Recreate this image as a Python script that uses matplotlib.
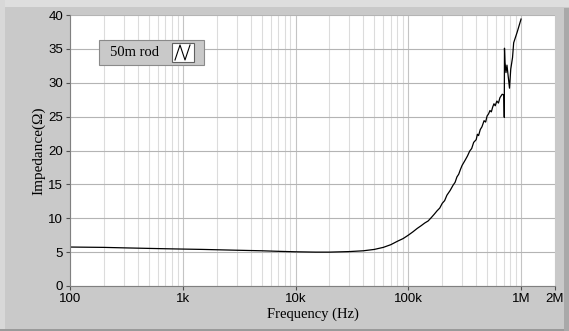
import matplotlib
matplotlib.use("Agg")
from matplotlib import pyplot as plt
from matplotlib.patches import Rectangle
from matplotlib.lines import Line2D
from matplotlib.ticker import FixedLocator, NullFormatter

# impedance sweep of the 50m rod
freq = [100, 150, 200, 300, 500, 700, 1e3, 1.5e3, 2e3, 3e3, 5e3, 7e3,
        1e4, 1.5e4, 2e4, 3e4, 4e4, 5e4, 6e4, 7e4, 8e4, 9e4, 1e5,
        1.1e5, 1.2e5, 1.3e5, 1.4e5, 1.5e5, 1.6e5, 1.7e5, 1.8e5, 1.9e5, 2e5,
        2.1e5, 2.2e5, 2.35e5, 2.5e5, 2.6e5, 2.7e5, 2.8e5, 2.9e5, 3e5, 3.2e5,
        3.35e5, 3.5e5, 3.65e5, 3.8e5, 4e5, 4.1e5, 4.2e5, 4.35e5, 4.5e5,
        4.7e5, 4.85e5, 5e5, 5.15e5, 5.3e5, 5.45e5, 5.6e5, 5.75e5, 5.9e5,
        6.1e5, 6.3e5, 6.5e5, 6.8e5, 7.05e5, 7.1e5, 7.13e5, 7.2e5, 7.35e5,
        7.5e5, 7.9e5, 8.1e5, 8.4e5, 8.6e5, 9.25e5, 1e6]
impedance = [5.75, 5.72, 5.7, 5.63, 5.55, 5.5, 5.45, 5.4, 5.35, 5.28, 5.2, 5.12,
             5.05, 5.0, 5.0, 5.08, 5.2, 5.4, 5.7, 6.1, 6.6, 7.0, 7.5,
             8.0, 8.5, 8.9, 9.3, 9.6, 10.1, 10.6, 11.1, 11.5, 12.2,
             12.6, 13.4, 14.1, 14.9, 15.3, 16.1, 16.5, 17.2, 17.8, 18.6,
             19.2, 19.9, 20.3, 21.2, 21.6, 22.4, 22.2, 23.1, 23.5,
             24.4, 24.2, 25.1, 25.4, 25.9, 25.7, 26.4, 26.9, 26.6,
             27.3, 27.0, 27.8, 28.3, 28.2, 24.9, 35.1, 33.0, 31.5,
             32.6, 29.2, 32.0, 33.7, 35.9, 37.5, 39.4]

x_ticks = [100, 1e3, 1e4, 1e5, 1e6, 2e6]
x_labels = ["100", "1k", "10k", "100k", "1M", "2M"]
y_ticks = [0, 5, 10, 15, 20, 25, 30, 35, 40]

W, H = 569, 331
fig = plt.figure(figsize=(W / 100, H / 100), dpi=100, facecolor="#c9c9c9")

# panel bevel
fig.patches.append(Rectangle((0, 1 - 7 / H), 1, 7 / H, transform=fig.transFigure,
                             facecolor="#dedede", edgecolor="none", zorder=0))
fig.patches.append(Rectangle((0, 0), 5 / W, 1, transform=fig.transFigure,
                             facecolor="#d8d8d8", edgecolor="none", zorder=0))
fig.patches.append(Rectangle((0, 0), 1, 2 / H, transform=fig.transFigure,
                             facecolor="#9a9a9a", edgecolor="none", zorder=0))
fig.patches.append(Rectangle((564 / W, 0), 5 / W, 1 - 8 / H, transform=fig.transFigure,
                             facecolor="#a9a9a9", edgecolor="none", zorder=0))

ax = fig.add_axes([70 / W, 45 / H, 485 / W, 271 / H])
ax.set_facecolor("white")
ax.set_xscale("log")
ax.set_xlim(100, 2e6)
ax.set_ylim(0, 40)

minor = [m * 10 ** e for e in range(2, 7) for m in range(2, 10)]
minor = [v for v in minor if v < 2e6]
ax.xaxis.set_minor_locator(FixedLocator(minor))
ax.xaxis.set_minor_formatter(NullFormatter())
ax.set_xticks(x_ticks)
ax.set_xticklabels(x_labels)
ax.set_yticks(y_ticks)

ax.grid(True, which="minor", axis="x", color="#dcdcdc", linewidth=0.8)
ax.grid(True, which="major", axis="x", color="#c4c4c4", linewidth=0.8)
ax.grid(True, which="major", axis="y", color="#b4b4b4", linewidth=0.8)
ax.set_axisbelow(True)

ax.plot(freq, impedance, color="black", linewidth=0.9)

for s in ["top", "right"]:
    ax.spines[s].set_visible(False)
ax.spines["left"].set_color("#808080")
ax.spines["bottom"].set_color("#808080")
ax.tick_params(axis="both", which="major", length=3, width=0.8, color="#505050",
               labelsize=9.5, pad=2)
ax.tick_params(axis="x", which="minor", length=0)
for lab in ax.get_xticklabels() + ax.get_yticklabels():
    lab.set_family("Liberation Sans")

ax.set_xlabel("Frequency (Hz)", family="Liberation Serif", fontsize=10.5, labelpad=2)
ax.set_ylabel("Impedance(Ω)", family="Liberation Serif", fontsize=11, labelpad=2)

# legend plate
fig.patches.append(Rectangle((99 / W, 1 - 65 / H), 105 / W, 25 / H, transform=fig.transFigure,
                             facecolor="#c9c9c9", edgecolor="#8a8a8a", linewidth=0.8, zorder=5))
fig.patches.append(Rectangle((172 / W, 1 - 62 / H), 22 / W, 19 / H, transform=fig.transFigure,
                             facecolor="white", edgecolor="#606060", linewidth=0.8, zorder=6))
fig.lines.append(Line2D([175 / W, 180 / W, 185 / W, 190 / W],
                        [1 - 60 / H, 1 - 45 / H, 1 - 60 / H, 1 - 45 / H],
                        transform=fig.transFigure, color="black", linewidth=0.8, zorder=7))
fig.text(110 / W, 1 - 52.5 / H, "50m rod", family="Liberation Serif", fontsize=10.5,
         va="center", ha="left", zorder=7)

fig.savefig("out.png", dpi=100, facecolor=fig.get_facecolor())
